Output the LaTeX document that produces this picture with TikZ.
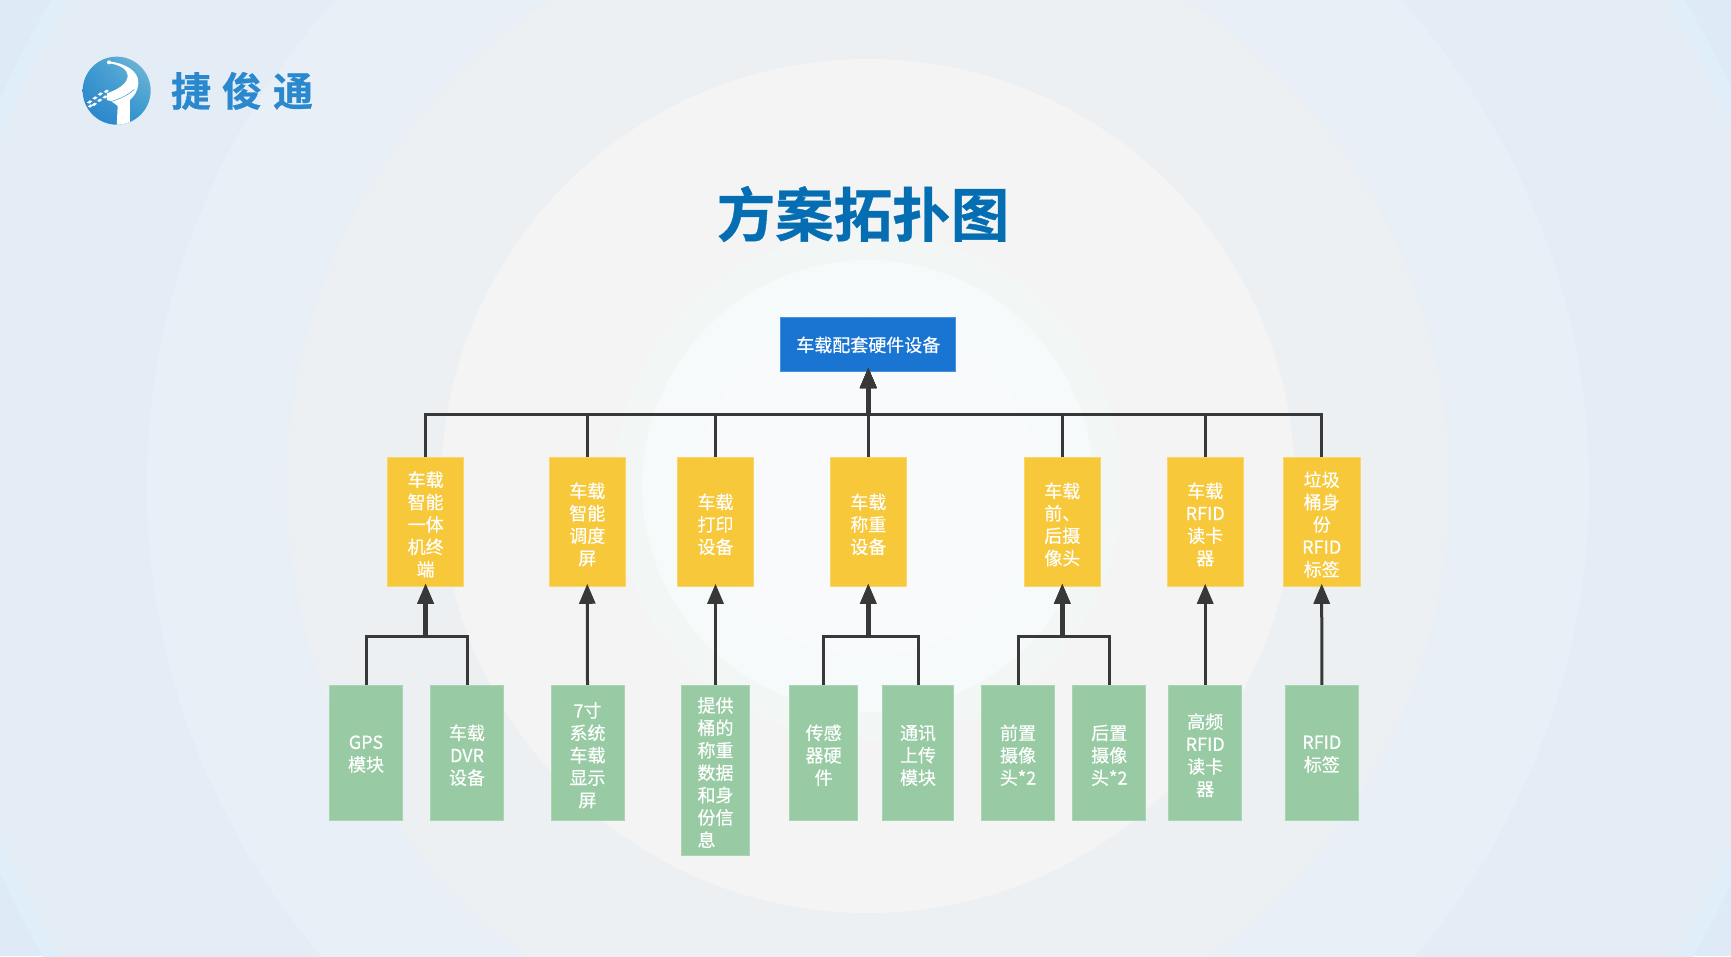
\documentclass[tikz,border=0pt]{standalone}
\usepackage{fontspec}
\newfontfamily\cjk{Noto Sans CJK SC}[FakeBold=0.4, BoldFont=* Bold, BoldFeatures={FakeBold=0.7}]
\usetikzlibrary{arrows.meta,shadings}
\newcommand{\headroom}[1][20pt]{\rule{0pt}{#1}}
\definecolor{ringA}{HTML}{E0EEF9}
\definecolor{ringB}{HTML}{E4EDF6}
\definecolor{ringC}{HTML}{E9EFF7}
\definecolor{ringD}{HTML}{ECF0F3}
\definecolor{ringE}{HTML}{F4F4F4}
\definecolor{ringF}{HTML}{F2F7F5}
\definecolor{ringG}{HTML}{F6FAFB}
\definecolor{ringH}{HTML}{F8FAFB}
\definecolor{corner}{HTML}{DEEBF7}
\definecolor{titleblue}{HTML}{056EB2}
\definecolor{brandblue}{HTML}{2A88CF}
\definecolor{linegray}{HTML}{383838}
\definecolor{topfill}{HTML}{1A75D2}
\definecolor{topedge}{HTML}{4A92DC}
\definecolor{unitfill}{HTML}{F7C83A}
\definecolor{unitedge}{HTML}{FAD66A}
\definecolor{partfill}{HTML}{98CBA3}
\definecolor{partedge}{HTML}{A8D5B3}
\definecolor{logoUR}{HTML}{7DBBD8}
\definecolor{logoUL}{HTML}{3A9ACF}
\definecolor{logoLL}{HTML}{2A80CB}
\definecolor{logoLR}{HTML}{2E97CE}
\begin{document}
\begin{tikzpicture}[
    x=1pt, y=-1pt,
    every node/.style={inner sep=0pt, outer sep=0pt, font=\cjk\fontsize{18}{22.4}\selectfont, text=white, align=center},
    topbox/.style={fill=topfill, draw=topedge, line width=0.8pt, minimum width=175pt, minimum height=54pt},
    unitbox/.style={fill=unitfill, draw=unitedge, line width=0.8pt, minimum width=76.5pt, minimum height=129.5pt},
    partbox/.style={fill=partfill, draw=partedge, line width=0.8pt, minimum width=73pt, minimum height=135.7pt},
    linkline/.style={draw=linegray, line width=3pt},
    uplink/.style={linkline, -{Triangle[length=20pt,width=16pt]}, shorten >=-3pt},
    trunkline/.style={linkline, line width=4.5pt, shorten >=12pt}
  ]
  \useasboundingbox (0,0) rectangle (1731,956);
  % background rings
  \begin{scope}
    \clip (0,0) rectangle (1731,956);
    \fill[corner] (0,0) rectangle (1731,956);
    \foreach \r/\c in {950/ringA, 935/ringB, 721/ringC, 581/ringD, 427/ringE, 254/ringF, 226/ringG, 170/ringH}
      \fill[\c] (868,486) circle (\r);
  \end{scope}

  % logo
  \begin{scope}[shift={(75,50)}, x=0.3333pt, y=-0.3333pt]
    \shade[upper right=logoUR, upper left=logoUL, lower left=logoLL, lower right=logoLR] (125,122) circle (102 and 102);
    \begin{scope}
      \clip (125,122) circle (102 and 102);
      \fill[white] (103,34) .. controls (150,40) and (192,62) .. (190,100)
        .. controls (189,122) and (178,138) .. (165,150) -- (165,230) -- (125,230) -- (128,168)
        .. controls (118,160) and (108,152) .. (96,150) -- (96,130)
        .. controls (130,118) and (160,100) .. (158,75) .. controls (156,55) and (130,44) .. (103,40) -- cycle;
      \draw[logoLR, line width=0.5pt] (60,165) .. controls (100,160) and (150,145) .. (178,118);
    \end{scope}
    \fill[white] (102,37) circle (6 and 6);
    \foreach \a/\b in {36/158, 52/146, 68/134, 86/126, 50/165, 66/153, 82/143, 38/170}
      \fill[white] (\a,\b) -- ++(8,-7) -- ++(8,3) -- ++(-8,7) -- cycle;
  \end{scope}
  \node[font=\cjk\bfseries\fontsize{40}{44}\selectfont, text=brandblue] (brand) at (242,91) {捷\hspace{11pt}俊\hspace{11pt}通};

  \node[font=\cjk\bfseries\fontsize{58.5}{62}\selectfont, text=titleblue] (title) at (863,214) {方案拓扑图};

  % top level
  \node[topbox] (top) at (868.3,344) {\headroom[17pt]车载配套硬件设备};

  % second level
  \node[unitbox] (u1) at (425.6,522) {\headroom 车载\\智能\\一体\\机终\\端};
  \node[unitbox] (u2) at (587.3,522) {\headroom 车载\\智能\\调度\\屏};
  \node[unitbox] (u3) at (715.5,522) {\headroom 车载\\打印\\设备};
  \node[unitbox] (u4) at (868.3,522) {\headroom 车载\\称重\\设备};
  \node[unitbox] (u5) at (1062.3,522) {\headroom 车载\\前、\\后摄\\像头};
  \node[unitbox] (u6) at (1205.2,522) {\headroom 车载\\RFID\\读卡\\器};
  \node[unitbox] (u7) at (1321.7,522) {\headroom 垃圾\\桶身\\份\\RFID\\标签};

  % third level
  \node[partbox] (p1) at (366,752.8) {\headroom[16pt]GPS\\模块};
  \node[partbox] (p2) at (467,752.8) {\headroom 车载\\DVR\\设备};
  \node[partbox] (p3) at (587.5,752.8) {\headroom 7寸\\系统\\车载\\显示\\屏};
  \node[partbox, minimum width=68.5pt, minimum height=170pt] (p4) at (715.5,770) {\headroom 提供\\桶的\\称重\\数据\\和身\\份信\\息\hphantom{息}};
  \node[partbox, minimum width=68pt] (p5) at (823.6,752.8) {\headroom 传感\\器硬\\件};
  \node[partbox, minimum width=71.6pt] (p6) at (918,752.8) {\headroom 通讯\\上传\\模块};
  \node[partbox] (p7) at (1018,752.8) {\headroom 前置\\摄像\\头*2};
  \node[partbox] (p8) at (1109.2,752.8) {\headroom 后置\\摄像\\头*2};
  \node[partbox] (p9) at (1205.2,752.8) {\headroom 高频\\RFID\\读卡\\器};
  \node[partbox] (p10) at (1321.8,752.8) {\headroom[16pt]RFID\\标签};

  \coordinate (bus) at (868.3,414);
  \foreach \n in {u1,u2,u3,u4,u5,u6,u7}
    \draw[uplink] (\n.north) |- (bus) -- (top.south);

  \coordinate (j1) at (425.6,636);
  \coordinate (j4) at (868.3,636);
  \coordinate (j5) at (1062.3,636);
  \foreach \a/\b in {bus/top, j1/u1, j4/u4, j5/u5}
    \draw[trunkline] (\a) -- (\b.south);
  \draw[uplink] (p1.north) |- (j1) -- (u1.south);
  \draw[uplink] (p2.north) |- (j1) -- (u1.south);
  \draw[uplink] (p3.north) -- (u2.south);
  \draw[uplink] (p4.north) -- (u3.south);
  \draw[uplink] (p5.north) |- (j4) -- (u4.south);
  \draw[uplink] (p6.north) |- (j4) -- (u4.south);
  \draw[uplink] (p7.north) |- (j5) -- (u5.south);
  \draw[uplink] (p8.north) |- (j5) -- (u5.south);
  \draw[uplink] (p9.north) -- (u6.south);
  \draw[uplink] (p10.north) -- (u7.south);
\end{tikzpicture}
\end{document}
